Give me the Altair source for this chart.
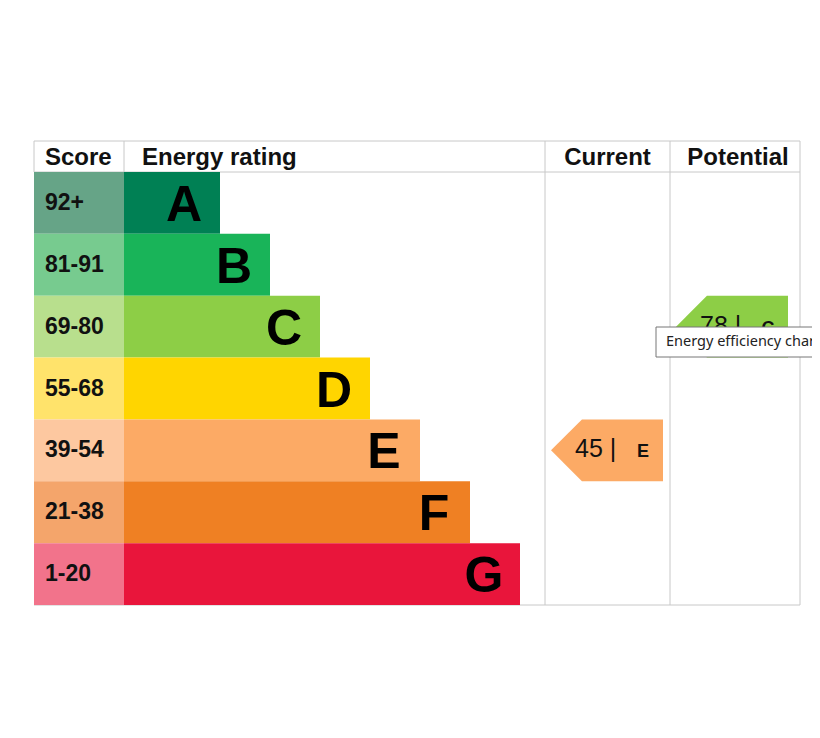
import altair as alt
import pandas as pd

# ---------------- data ----------------
bands = ["A", "B", "C", "D", "E", "F", "G"]
score_ranges = ["92+", "81-91", "69-80", "55-68", "39-54", "21-38", "1-20"]
band_colors = ["#008054", "#19b459", "#8dce46", "#ffd500", "#fcaa65", "#ef8023", "#e9153b"]
score_colors = ["#66a487", "#77cb8f", "#b8df8d", "#ffe36b", "#fdc8a0", "#f4a56b", "#f2738b"]
headers = ["Score", "Energy rating", "Current", "Potential"]
current_score = 45
current_band = "E"
potential_score = 78
potential_band = "C"
tooltip_text = "Energy efficiency chart"

# ---------------- layout (plot-area units) ----------------
W, H = 778, 464
HEAD = 31
ROW = (H - HEAD) / len(bands)
COLS = [0, 90, 511, 636, 766]
FONT = "Liberation Sans"

xs = alt.Scale(domain=[0, W], nice=False, zero=False)
ys = alt.Scale(domain=[0, H], nice=False, zero=False, reverse=True)

rows = pd.DataFrame({
    "band": bands,
    "score": score_ranges,
    "bcol": band_colors,
    "scol": score_colors,
})
rows["i"] = range(len(bands))
rows["top"] = HEAD + rows["i"] * ROW
rows["bottom"] = rows["top"] + ROW
rows["mid"] = rows["top"] + ROW / 2
rows["x0"] = COLS[0]
rows["x1"] = COLS[1]
rows["bar_end"] = 186 + 50 * rows["i"]
rows["letter_x"] = rows["bar_end"] - 36
rows["score_x"] = 11
rows["score_y"] = rows["mid"] + 7
rows["letter_y"] = rows["mid"] + 18

score_cells = alt.Chart(rows).mark_rect().encode(
    x=alt.X("x0:Q", scale=xs, axis=None), x2="x1:Q",
    y=alt.Y("top:Q", scale=ys, axis=None), y2="bottom:Q",
    color=alt.Color("scol:N", scale=None),
)
bars = alt.Chart(rows).mark_rect().encode(
    x=alt.X("x1:Q", scale=xs, axis=None), x2="bar_end:Q",
    y=alt.Y("top:Q", scale=ys, axis=None), y2="bottom:Q",
    color=alt.Color("bcol:N", scale=None),
)
score_text = alt.Chart(rows).mark_text(
    align="left", baseline="alphabetic", font=FONT, fontSize=23, fontWeight="bold", color="#111"
).encode(
    x=alt.X("score_x:Q", scale=xs, axis=None),
    y=alt.Y("score_y:Q", scale=ys, axis=None),
    text="score:N",
)
letter_text = alt.Chart(rows).mark_text(
    align="center", baseline="alphabetic", font=FONT, fontSize=50, fontWeight="bold", color="#000"
).encode(
    x=alt.X("letter_x:Q", scale=xs, axis=None),
    y=alt.Y("letter_y:Q", scale=ys, axis=None),
    text="band:N",
)

# header texts
head = pd.DataFrame({
    "label": headers,
    "x": [11, 108, (COLS[2] + COLS[3]) / 2, (COLS[3] + COLS[4]) / 2 + 3],
    "align": ["left", "left", "center", "center"],
})
head["y"] = 24
head_left = alt.Chart(head[head["align"] == "left"]).mark_text(
    align="left", baseline="alphabetic", font=FONT, fontSize=24, fontWeight="bold", color="#111"
).encode(x=alt.X("x:Q", scale=xs, axis=None), y=alt.Y("y:Q", scale=ys, axis=None), text="label:N")
head_center = alt.Chart(head[head["align"] == "center"]).mark_text(
    align="center", baseline="alphabetic", font=FONT, fontSize=24, fontWeight="bold", color="#111"
).encode(x=alt.X("x:Q", scale=xs, axis=None), y=alt.Y("y:Q", scale=ys, axis=None), text="label:N")

# grid lines
grid = pd.DataFrame({
    "x": [0, 0, 0, 0, COLS[1], COLS[2], COLS[3], COLS[4]],
    "x2": [COLS[4], COLS[4], COLS[4], 0, COLS[1], COLS[2], COLS[3], COLS[4]],
    "y": [0, HEAD, H, 0, 0, 0, 0, 0],
    "y2": [0, HEAD, H, HEAD, HEAD, H, H, H],
})
grid_rules = alt.Chart(grid).mark_rule(color="#c8c8c8", strokeWidth=1).encode(
    x=alt.X("x:Q", scale=xs, axis=None), x2="x2:Q",
    y=alt.Y("y:Q", scale=ys, axis=None), y2="y2:Q",
)

# arrows
def arrow(name, col_start, score, band):
    i = bands.index(band)
    top = HEAD + i * ROW
    bot = top + ROW
    mid = top + ROW / 2
    tip = col_start + 6
    shoulder = tip + ROW / 2
    right = tip + 112
    color = band_colors[i]
    pts = pd.DataFrame({
        "arrow": name, "col": color,
        "x": [tip, shoulder, right],
        "y": [mid, top, top],
        "y2": [mid, bot, bot],
    })
    txt = pd.DataFrame({
        "num": [f"{score} |"], "band": [band],
        "nx": [tip + 24], "bx": [right - 20], "ty": [mid + 7],
    })
    return pts, txt

cur_pts, cur_txt = arrow("current", COLS[2], current_score, current_band)
pot_pts, pot_txt = arrow("potential", COLS[3], potential_score, potential_band)
arrow_pts = pd.concat([cur_pts, pot_pts])
arrow_txt = pd.concat([cur_txt, pot_txt])

arrow_shape = alt.Chart(arrow_pts).mark_area(orient="vertical").encode(
    x=alt.X("x:Q", scale=xs, axis=None),
    y=alt.Y("y:Q", scale=ys, axis=None), y2="y2:Q",
    detail="arrow:N",
    color=alt.Color("col:N", scale=None),
)
arrow_num = alt.Chart(arrow_txt).mark_text(
    align="left", baseline="alphabetic", font=FONT, fontSize=25, color="#111"
).encode(x=alt.X("nx:Q", scale=xs, axis=None), y=alt.Y("ty:Q", scale=ys, axis=None), text="num:N")
arrow_band = alt.Chart(arrow_txt).mark_text(
    align="center", baseline="alphabetic", font=FONT, fontSize=18, fontWeight="bold", color="#111"
).encode(x=alt.X("bx:Q", scale=xs, axis=None), y=alt.Y("ty:Q", scale=ys, axis=None), text="band:N")

# browser tooltip visible in the reference (cut off by the right edge)
tip_box = pd.DataFrame({"x": [622], "x2": [795], "y": [186], "y2": [216], "label": [tooltip_text],
                        "tx": [632], "ty": [205]})
tip_rect = alt.Chart(tip_box).mark_rect(fill="white", stroke="#767676", strokeWidth=1, clip=True).encode(
    x=alt.X("x:Q", scale=xs, axis=None), x2="x2:Q",
    y=alt.Y("y:Q", scale=ys, axis=None), y2="y2:Q",
)
tip_text = alt.Chart(tip_box).mark_text(
    align="left", baseline="alphabetic", font="Noto Sans", fontSize=14.5, color="#222", clip=True
).encode(x=alt.X("tx:Q", scale=xs, axis=None), y=alt.Y("ty:Q", scale=ys, axis=None), text="label:N")

chart = alt.layer(
    grid_rules, score_cells, bars, score_text, letter_text, head_left, head_center,
    arrow_shape, arrow_num, arrow_band, tip_rect, tip_text,
).properties(
    width=W, height=H,
    autosize=alt.AutoSizeParams(type="none"),
    padding={"left": 26, "top": 133, "right": 0, "bottom": 8},
).configure_view(stroke=None)

chart.save("out.html", embed_options={"renderer": "svg", "actions": False})
